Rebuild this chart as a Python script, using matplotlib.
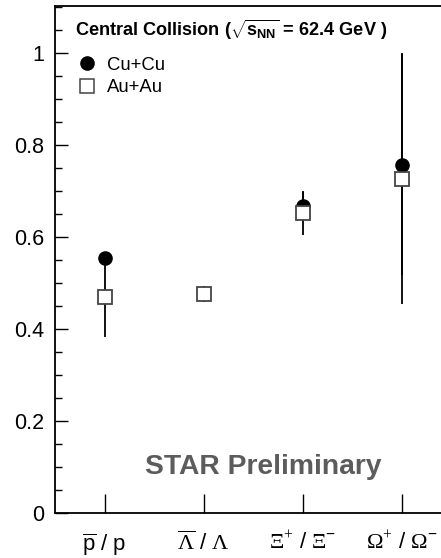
import numpy as np
import matplotlib
matplotlib.use("Agg")
import matplotlib.pyplot as plt
from matplotlib.lines import Line2D

plt.rcParams['font.family'] = ['Liberation Sans', 'DejaVu Sans']
plt.rcParams['mathtext.fontset'] = 'custom'
plt.rcParams['mathtext.rm'] = 'Liberation Serif'
plt.rcParams['mathtext.sf'] = 'Liberation Sans'
plt.rcParams['mathtext.it'] = 'Liberation Sans:italic'
plt.rcParams['mathtext.bf'] = 'Liberation Sans:bold'

# anti-particle / particle ratios, central collisions at 62.4 GeV
ratio_labels = [r'$\overline{\mathsf{p}}$ / p',
                r'$\overline{\Lambda}$ / $\Lambda$',
                r'$\Xi^{+}$ / $\Xi^{\mathsf{-}}$',
                r'$\Omega^{+}$ / $\Omega^{\mathsf{-}}$']
x_pos = [1, 2, 3, 4]

cucu_x = [1, 3, 4]
cucu_val = [0.555, 0.668, 0.757]
cucu_err = [0.012, 0.030, 0.240]

auau_x = [1, 2, 3, 4]
auau_val = [0.469, 0.476, 0.652, 0.727]
auau_err = [0.086, 0.018, 0.047, 0.273]

fig = plt.figure(figsize=(4.41, 5.58), dpi=100)
ax = fig.add_axes([0.1247, 0.0806, 0.899, 0.9086])

ax.errorbar(cucu_x, cucu_val, yerr=cucu_err, fmt='o', color='black',
            ms=9.5, elinewidth=1.3, capsize=0, zorder=3)
ax.errorbar(auau_x, auau_val, yerr=auau_err, fmt='s', mfc='white',
            mec='#444444', mew=1.3, ecolor='black', ms=10,
            elinewidth=1.3, capsize=0, zorder=4)

ax.set_xlim(0.5, 4.5)
ax.set_ylim(0, 1.102)
ax.set_xticks(x_pos)
ax.set_xticklabels(ratio_labels, fontsize=16)
ax.set_yticks([0, 0.2, 0.4, 0.6, 0.8, 1])
ax.set_yticklabels(['0', '0.2', '0.4', '0.6', '0.8', '1'], fontsize=15.5)
ax.set_yticks(np.arange(0, 1.101, 0.05), minor=True)

ax.tick_params(axis='y', which='major', direction='in', length=9, width=1, pad=8)
ax.tick_params(axis='y', which='minor', direction='in', length=5, width=1)
ax.tick_params(axis='x', which='major', direction='in', length=14, width=1, pad=13)
for s in ax.spines.values():
    s.set_linewidth(1.3)

ax.text(0.05, 0.953, r'Central Collision ($\sqrt{\mathbf{s}_{\mathbf{NN}}}$ = 62.4 GeV )',
        transform=ax.transAxes, fontsize=13.1, fontweight='bold', va='center')

handles = [Line2D([], [], ls='none', marker='o', color='black', ms=9.5),
           Line2D([], [], ls='none', marker='s', mfc='white', mec='#444444',
                  mew=1.1, ms=10)]
ax.legend(handles, ['Cu+Cu', 'Au+Au'], loc='upper left',
          bbox_to_anchor=(0.058, 0.90), frameon=False, fontsize=13.3,
          handlelength=1.0, handletextpad=0.55, labelspacing=0.3,
          borderaxespad=0, borderpad=0)

ax.text(0.525, 0.09, 'STAR Preliminary', transform=ax.transAxes,
        fontsize=20.3, fontweight='bold', color='#5c5c5c',
        ha='center', va='center')

fig.savefig('out.png', dpi=100)
